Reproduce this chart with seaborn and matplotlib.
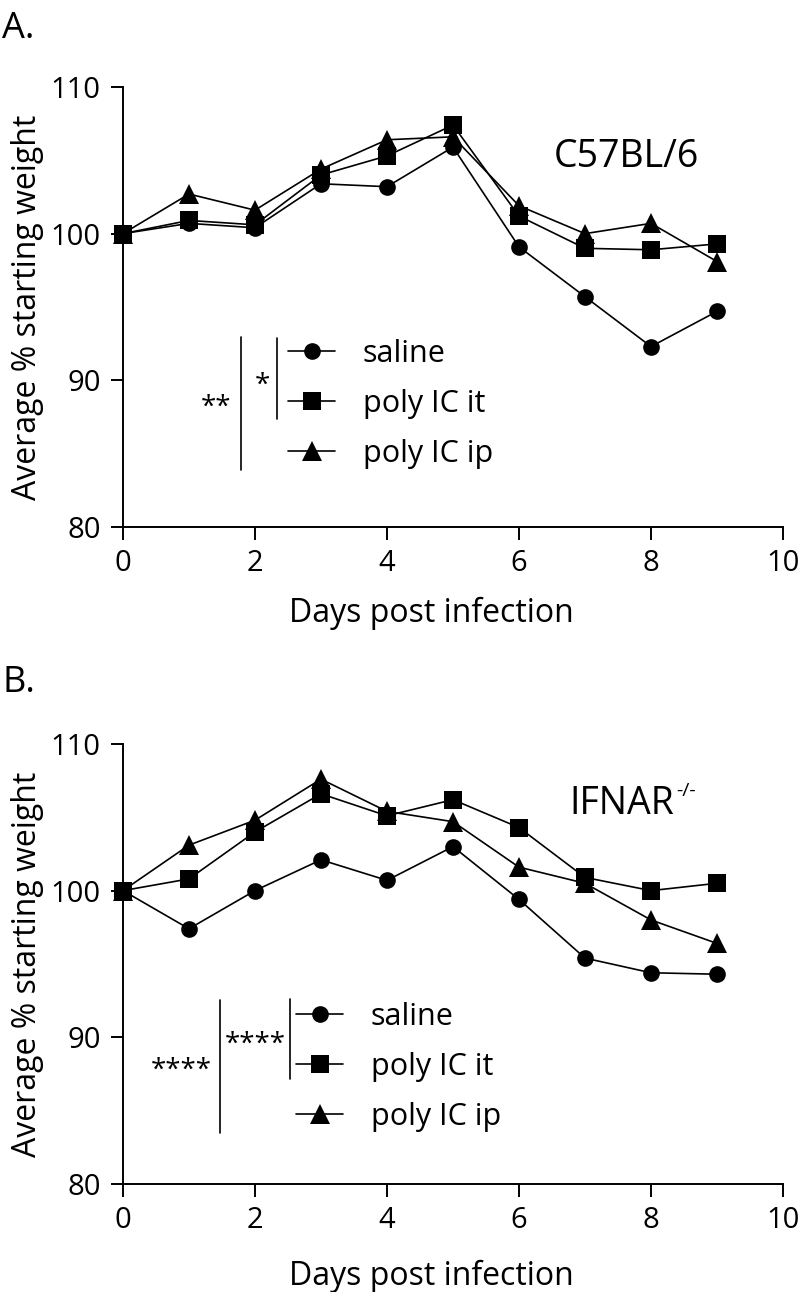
import matplotlib
matplotlib.use("Agg")
import matplotlib.pyplot as plt
import seaborn as sns

# weight curves (% of starting weight)
days = [0, 1, 2, 3, 4, 5, 6, 7, 8, 9]
groups = ["saline", "poly IC it", "poly IC ip"]
markers = ["o", "s", "^"]
marker_sizes = [12, 13.5, 14]

# A. C57BL/6
a_saline = [100, 100.7, 100.4, 103.4, 103.2, 105.9, 99.1, 95.7, 92.3, 94.7]
a_poly_it = [100, 100.9, 100.6, 104.0, 105.3, 107.4, 101.2, 99.0, 98.9, 99.3]
a_poly_ip = [100, 102.7, 101.6, 104.4, 106.4, 106.6, 101.9, 100.0, 100.7, 98.1]

# B. IFNAR-/-
b_saline = [100, 97.4, 100.0, 102.1, 100.7, 103.0, 99.4, 95.4, 94.4, 94.3]
b_poly_it = [100, 100.8, 104.0, 106.6, 105.1, 106.2, 104.3, 100.9, 100.0, 100.5]
b_poly_ip = [100, 103.1, 104.8, 107.6, 105.4, 104.7, 101.6, 100.5, 98.0, 96.4]

x_ticks = [0, 2, 4, 6, 8, 10]
y_ticks = [80, 90, 100, 110]

sns.set_style("ticks")
plt.rcParams["font.family"] = ["Open Sans", "DejaVu Sans"]
for key in ["text.color", "axes.labelcolor", "xtick.color", "ytick.color",
            "axes.edgecolor"]:
    plt.rcParams[key] = "black"

fig = plt.figure(figsize=(7.98, 12.92), dpi=100)
ax_a = fig.add_axes([0.1541, 0.5921, 0.8271, 0.3406])
ax_b = fig.add_axes([0.1541, 0.0836, 0.8271, 0.3406])


def draw_panel(ax, series, title, legend_anchor, xlabel_y):
    for name, vals, m, ms in zip(groups, series, markers, marker_sizes):
        sns.lineplot(x=days, y=vals, ax=ax, color="black", linewidth=1.2,
                     marker=m, markersize=ms, markeredgewidth=0,
                     label=name, clip_on=False, zorder=3)
    ax.set_xlim(0, 10)
    ax.set_ylim(80, 110)
    ax.set_xticks(x_ticks)
    ax.set_yticks(y_ticks)
    sns.despine(ax=ax)
    for side in ["left", "bottom"]:
        ax.spines[side].set_linewidth(1.4)
    ax.tick_params(length=9, width=1.4, labelsize=21, pad=7)
    ax.set_xlabel("Days post infection", fontsize=23)
    ax.set_ylabel("Average % starting weight", fontsize=23)
    ax.xaxis.set_label_coords(0.468, xlabel_y)
    ax.yaxis.set_label_coords(-0.12, 0.5)
    ax.legend(loc="center left", bbox_to_anchor=legend_anchor, frameon=False,
              fontsize=22, handlelength=1.55, handletextpad=0.9,
              labelspacing=0.65, borderpad=0, borderaxespad=0)
    return ax.text(title[1], title[2], title[0], transform=ax.transAxes,
                   fontsize=27, ha="left", va="baseline")


def bracket(ax, x, y0, y1):
    ax.plot([x, x], [y0, y1], transform=ax.transAxes, color="black",
            linewidth=1.2, clip_on=False)


draw_panel(ax_a, [a_saline, a_poly_it, a_poly_ip], ("C57BL/6", 0.652, 0.818),
           (0.25, 0.2795), -0.158)
bracket(ax_a, 0.179, 0.432, 0.130)
bracket(ax_a, 0.233, 0.430, 0.245)
ax_a.text(0.141, 0.280, "**", transform=ax_a.transAxes, fontsize=20,
          ha="center", va="center_baseline")
ax_a.text(0.212, 0.330, "*", transform=ax_a.transAxes, fontsize=20,
          ha="center", va="center_baseline")

t = draw_panel(ax_b, [b_saline, b_poly_it, b_poly_ip], ("IFNAR", 0.677, 0.841),
               (0.262, 0.266), -0.172)
ax_b.annotate("-/-", xy=(1.0, 1.0), xycoords=t, fontsize=14,
              ha="left", va="top", xytext=(1, 2), textcoords="offset points")
bracket(ax_b, 0.147, 0.417, 0.116)
bracket(ax_b, 0.253, 0.421, 0.239)
ax_b.text(0.089, 0.266, "****", transform=ax_b.transAxes, fontsize=20,
          ha="center", va="center_baseline")
ax_b.text(0.200, 0.325, "****", transform=ax_b.transAxes, fontsize=20,
          ha="center", va="center_baseline")

fig.text(0.003, 1 - 38 / 1292, "A.", fontsize=26, va="baseline")
fig.text(0.003, 1 - 692 / 1292, "B.", fontsize=26, va="baseline")

fig.savefig("out.png", dpi=100)
